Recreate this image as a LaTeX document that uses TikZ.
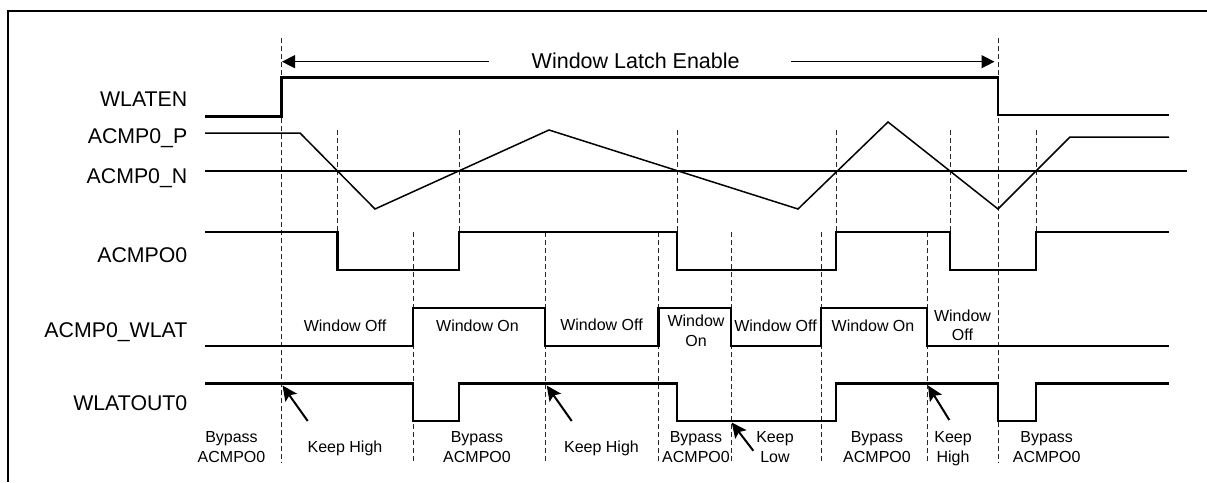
\documentclass[tikz,border=0pt]{standalone}
\usepackage{fontspec}
\setmainfont{Liberation Sans}
\usetikzlibrary{arrows.meta}
\begin{document}
\begin{tikzpicture}[x=1pt,y=-1pt,
  frame/.style={line width=2pt},
  sig/.style={line width=2.8pt,line join=miter},
  ana/.style={line width=1.5pt,line join=miter},
  gridline/.style={line width=0.8pt,dash pattern=on 5pt off 3pt,black!85},
  spanarrow/.style={line width=1.3pt,-{Triangle[length=13pt,width=13pt]}},
  callout/.style={line width=2pt,-{Stealth[length=15pt,width=14pt,inset=3pt]}},
  siglabel/.style={font=\fontsize{21.3}{25}\selectfont,anchor=base east,inner sep=0pt},
  titlelabel/.style={font=\fontsize{21.5}{25}\selectfont,anchor=base,inner sep=0pt},
  note/.style={font=\fontsize{16}{19.5}\selectfont,anchor=base,inner sep=0pt},
  notetwo/.style={font=\fontsize{16}{19.5}\selectfont,anchor=north,inner sep=0pt,align=center},
]
\useasboundingbox (0,0) rectangle (1207,482);

% frame
\draw[frame] (8.4,482) -- (8.4,11.3) -- (1207,11.3);

% dashed guide lines
\foreach \x in {281.5,998} \draw[gridline] (\x,38) -- (\x,463);
\foreach \x in {337.5,459,677,836,950,1036} \draw[gridline] (\x,130) -- (\x,232);
\foreach \x in {413,545,658.3,731,821,927} \draw[gridline] (\x,232) -- (\x,463);

% title with span arrows
\node[titlelabel] (title) at (635.7,68.3) {Window Latch Enable};
\coordinate (spanL) at (282,61.7);
\coordinate (spanR) at (994.5,61.7);
\coordinate (tailL) at (489,61.7);
\coordinate (tailR) at (791,61.7);
\draw[spanarrow] (tailL) -- (spanL);
\draw[spanarrow] (tailR) -- (spanR);

% signal labels
\node[siglabel] (lWLATEN) at (187.5,106) {WLATEN};
\node[siglabel] (lACMPP) at (187.5,143) {ACMP0\_P};
\node[siglabel] (lACMPN) at (187.5,183.3) {ACMP0\_N};
\node[siglabel] (lACMPO) at (187.5,262.7) {ACMPO0};
\node[siglabel] (lWLAT) at (187.5,337.3) {ACMP0\_WLAT};
\node[siglabel] (lWLATOUT) at (187.5,410) {WLATOUT0};

% WLATEN
\draw[sig] (205,116.7) -- (281.5,116.7) -- (281.5,77.3) -- (998,77.3) -- (998,115) -- (1169,115);

% ACMP0_P and ACMP0_N
\draw[ana] (205,133) -- (300,133) -- (375,209) -- (549,130) -- (798,209) -- (888,122) -- (998,209) -- (1070,137) -- (1169,137);
\draw[ana] (205,171) -- (1187,171);

% ACMPO0
\draw[sig] (205,232) -- (337.5,232) -- (337.5,270) -- (459,270) -- (459,232) -- (677,232) -- (677,270) -- (836,270) -- (836,232) -- (950,232) -- (950,270) -- (1036,270) -- (1036,232) -- (1169,232);

% ACMP0_WLAT
\draw[sig] (205,346) -- (413,346) -- (413,308) -- (545,308) -- (545,346) -- (658.3,346) -- (658.3,308) -- (731,308) -- (731,346) -- (821,346) -- (821,308) -- (927,308) -- (927,346) -- (1169,346);

% WLATOUT0
\draw[sig] (205,383.5) -- (413,383.5) -- (413,421) -- (459,421) -- (459,383.5) -- (677,383.5) -- (677,421) -- (836,421) -- (836,383.5) -- (998,383.5) -- (998,421) -- (1036,421) -- (1036,383.5) -- (1169,383.5);

% window labels
\node[note] (wOff1) at (345,331) {Window Off};
\node[note] (wOn1) at (477.5,331) {Window On};
\node[note] (wOff2) at (601.5,330.5) {Window Off};
\node[notetwo] (wOn2) at (696,315) {Window\\On};
\node[note] (wOff3) at (775.5,331) {Window Off};
\node[note] (wOn3) at (873,331) {Window On};
\node[notetwo] (wOff4) at (962.5,309.3) {Window\\Off};

% bottom labels
\node[notetwo] (b1) at (231.5,431.7) {Bypass\\ACMPO0};
\node[note] (k1) at (345,452) {Keep High};
\node[notetwo] (b2) at (477,431.7) {Bypass\\ACMPO0};
\node[note] (k2) at (601.5,452) {Keep High};
\node[notetwo] (b3) at (696,431.7) {Bypass\\ACMPO0};
\node[notetwo] (k3) at (775,431.7) {Keep\\Low};
\node[notetwo] (b4) at (877,431.7) {Bypass\\ACMPO0};
\node[notetwo] (k4) at (953,431.7) {Keep\\High};
\node[notetwo] (b5) at (1046.7,431.7) {Bypass\\ACMPO0};

% callout arrows
\coordinate (c1tail) at (307.7,421); \coordinate (c1tip) at (282.5,385.5);
\coordinate (c2tail) at (571.7,421);   \coordinate (c2tip) at (546.7,385.5);
\coordinate (c3tail) at (753.3,450.7); \coordinate (c3tip) at (731.7,422.5);
\coordinate (c4tail) at (949.3,420);   \coordinate (c4tip) at (928,385.5);
\draw[callout] (c1tail) -- (c1tip);
\draw[callout] (c2tail) -- (c2tip);
\draw[callout] (c3tail) -- (c3tip);
\draw[callout] (c4tail) -- (c4tip);
\end{tikzpicture}
\end{document}
